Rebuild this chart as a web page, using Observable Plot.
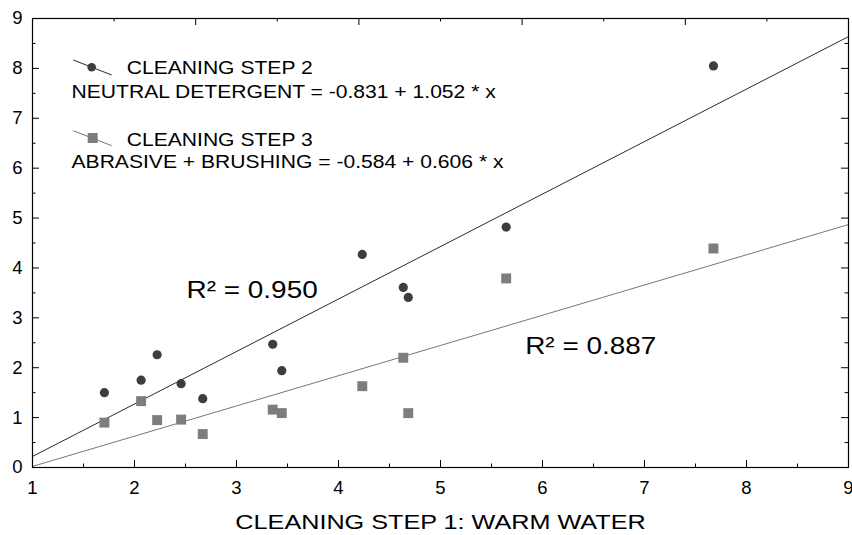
<!DOCTYPE html>
<html><head><meta charset="utf-8">
<script src="https://cdn.jsdelivr.net/npm/d3@7"></script>
<script src="https://cdn.jsdelivr.net/npm/@observablehq/plot@0.6"></script>
<style>body{margin:0;background:#fff;} svg{display:block}</style>
</head><body><div id="chart"></div>
<script>
// ---- data ----
const step1 = [1.705, 2.065, 2.222, 2.457, 2.669, 3.355, 3.444, 4.233, 4.635, 4.684, 5.644, 7.676];
const step2 = [1.50, 1.75, 2.26, 1.68, 1.38, 2.47, 1.94, 4.27, 3.61, 3.41, 4.82, 8.05];
const step3 = [0.90, 1.33, 0.95, 0.96, 0.67, 1.16, 1.09, 1.63, 2.20, 1.09, 3.79, 4.39];
const seriesNames = ["CLEANING STEP 2", "CLEANING STEP 3"];
const fitLabels = ["NEUTRAL DETERGENT = -0.831 + 1.052 * x", "ABRASIVE + BRUSHING = -0.584 + 0.606 * x"];
const fitIntercept = [-0.831, -0.584];
const fitSlope = [1.052, 0.606];
const r2Labels = ["R\u00B2 = 0.950", "R\u00B2 = 0.887"];
const r2X = [2.51, 5.83];
const r2Y = [3.40, 2.285];
const xTicks = [1, 2, 3, 4, 5, 6, 7, 8, 9];
const xMinor = [1.5, 2.5, 3.5, 4.5, 5.5, 6.5, 7.5, 8.5];
const yTicks = [0, 1, 2, 3, 4, 5, 6, 7, 8, 9];
const yMinor = [0.5, 1.5, 2.5, 3.5, 4.5, 5.5, 6.5, 7.5, 8.5];
const topMajor = [1, 2.6, 4.2, 5.8, 7.4, 9];
const topMinor = [1.8, 3.4, 5.0, 6.6, 8.2];
const xDomain = [1, 9];
const yDomain = [0, 9];
const xTitle = "CLEANING STEP 1: WARM WATER";

// ---- styles ----
const FONT = "'Liberation Sans', Arial, Helvetica, sans-serif";
const dark = "#3d3d3d", gray = "#7d7d7d";
const lineColors = ["#2b2b2b", "#777777"];
const W = 852, H = 535, mL = 32, mR = 4, mT = 18, mB = 68;
const fw = W - mL - mR, fh = H - mT - mB;

const points2 = step1.map((x, i) => ({x, y: step2[i]}));
const points3 = step1.map((x, i) => ({x, y: step3[i]}));
const fit = k => xDomain.map(x => ({x, y: fitIntercept[k] + fitSlope[k] * x}));

function legend(index, scales, values, dims) {
  const g = d3.create("svg:g").attr("font-family", FONT).attr("font-size", 18.5)
    .attr("text-anchor", "start").attr("fill", "#000");
  const ox = dims.marginLeft, oy = dims.marginTop;
  const rows = [
    {ly1: 42, ly2: 57, sy: 49.3, t1: 56, t2: 79.5},
    {ly1: 112.7, ly2: 127.7, sy: 120, t1: 127.7, t2: 149.7}
  ];
  rows.forEach((r, k) => {
    g.append("line").attr("x1", ox + 41.3).attr("y1", oy + r.ly1).attr("x2", ox + 79.7).attr("y2", oy + r.ly2)
      .attr("stroke", lineColors[k]).attr("stroke-width", 1);
    if (k === 0) g.append("circle").attr("cx", ox + 59.7).attr("cy", oy + r.sy).attr("r", 4.3).attr("fill", dark);
    else g.append("rect").attr("x", ox + 60.7 - 5).attr("y", oy + r.sy - 5).attr("width", 10).attr("height", 10).attr("fill", gray);
    g.append("text").attr("x", ox + 94.7).attr("y", oy + r.t1).attr("text-anchor", "start").text(seriesNames[k]);
    g.append("text").attr("x", ox + 39.5).attr("y", oy + r.t2).attr("text-anchor", "start").text(fitLabels[k]);
  });
  return g.node();
}

const chart = Plot.plot({
  width: W, height: H,
  marginLeft: mL, marginRight: mR, marginTop: mT, marginBottom: mB,
  style: {fontFamily: FONT, fontSize: "18.5px", color: "#000", background: "#fff"},
  x: {domain: xDomain, ticks: xTicks, tickSize: 0, tickPadding: 13, tickFormat: d => String(d), label: null},
  y: {domain: yDomain, ticks: yTicks, tickSize: 0, tickPadding: 10, tickFormat: d => String(d), label: null},
  marks: [
    Plot.line(fit(0), {x: "x", y: "y", stroke: lineColors[0], strokeWidth: 1}),
    Plot.line(fit(1), {x: "x", y: "y", stroke: lineColors[1], strokeWidth: 1}),
    Plot.dot(points2, {x: "x", y: "y", r: 4.6, fill: dark, stroke: "none"}),
    Plot.dot(points3, {x: "x", y: "y", r: 5.6, symbol: "square", fill: gray, stroke: "none"}),
    Plot.tickX(xTicks, {x: d => d, insetTop: fh - 7, stroke: "#000"}),
    Plot.tickX(xMinor, {x: d => d, insetTop: fh - 3.5, stroke: "#000"}),
    Plot.tickX(topMajor, {x: d => d, insetBottom: fh - 7, stroke: "#000"}),
    Plot.tickX(topMinor, {x: d => d, insetBottom: fh - 3.5, stroke: "#000"}),
    Plot.tickY(yTicks, {y: d => d, insetRight: fw - 7, stroke: "#000"}),
    Plot.tickY(yMinor, {y: d => d, insetRight: fw - 3.5, stroke: "#000"}),
    Plot.tickY(yTicks, {y: d => d, insetLeft: fw - 7, stroke: "#000"}),
    Plot.tickY(yMinor, {y: d => d, insetLeft: fw - 3.5, stroke: "#000"}),
    Plot.frame({stroke: "#000", strokeWidth: 1.2}),
    Plot.text(r2Labels, {x: (d, i) => r2X[i], y: (d, i) => r2Y[i], text: d => d, textAnchor: "start", lineAnchor: "bottom", fontSize: 24.5, fill: "#000"}),
    Plot.text([xTitle], {frameAnchor: "bottom", dy: 61, lineAnchor: "bottom", text: d => d, fontSize: 21, fill: "#000"}),
    legend
  ]
});
document.getElementById("chart").appendChild(chart);
// the reference typeface is horizontally wider than Arial: widen long texts
d3.select(chart).selectAll("text").each(function () {
  if (this.textContent.length > 2) {
    const f = this.textContent === xTitle ? 1.2 : 1.14;
    const L = this.getComputedTextLength();
    this.setAttribute("textLength", (L * f).toFixed(1));
    this.setAttribute("lengthAdjust", "spacingAndGlyphs");
  }
});
</script></body></html>
